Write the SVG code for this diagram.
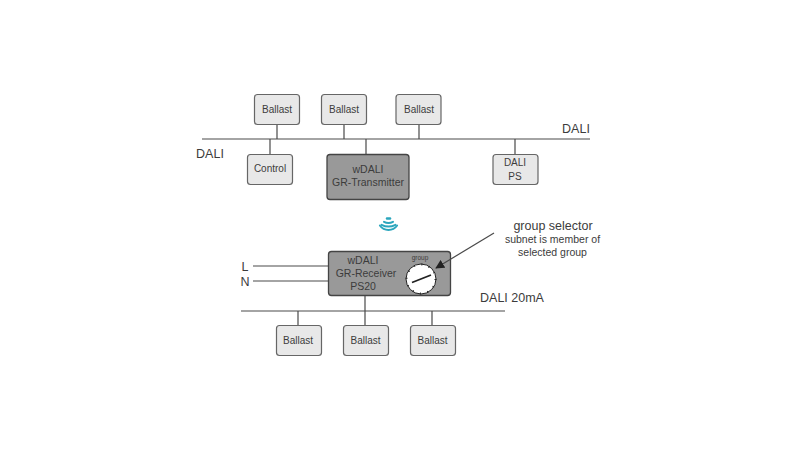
<svg xmlns="http://www.w3.org/2000/svg" width="800" height="450" viewBox="0 0 800 450">
<style>
text{font-family:"Liberation Sans",Arial,sans-serif;fill:#3c3c3c;text-anchor:middle}
.b{fill:#e8e8e8;stroke:#666;stroke-width:1.200}
.d{fill:#999;stroke:#444;stroke-width:1.300}
.c{stroke:#4a4a4a;stroke-width:1.200;fill:none}
.t{font-size:10px}
.m{font-size:10.500px}
.n{font-size:12.500px}
.w{fill:none;stroke:#2ba6bd;stroke-width:2;stroke-linecap:round}
</style>
<defs>
<marker id="ah" viewBox="0 0 10 10" refX="9" refY="5" markerWidth="9" markerHeight="9" markerUnits="userSpaceOnUse" orient="auto"><path d="M0 0L10 5L0 10Z" fill="#222"/></marker>
</defs>
<rect width="800" height="450" fill="#fff"/>
<g id="connectors-buses" class="c">
<path d="M202 139H590"/>
<path d="M277 124V139M344 124V139M419 124V139M270 139V155M366 139V154M515 139V155"/>
<path d="M241 311H505"/>
<path d="M253 266H328M253 281H328"/>
<path d="M365 296V311M298 311V325M365 311V325M432 311V325"/>
</g>
<g id="ballast-t1"><rect class="b" x="254.500" y="94.500" width="45" height="30" rx="3"/><text class="t" x="277" y="113">Ballast</text></g>
<g id="ballast-t2"><rect class="b" x="321.500" y="94.500" width="45" height="30" rx="3"/><text class="t" x="344" y="113">Ballast</text></g>
<g id="ballast-t3"><rect class="b" x="396" y="94.500" width="45" height="30" rx="3"/><text class="t" x="419" y="113">Ballast</text></g>
<g id="control"><rect class="b" x="247.500" y="154.500" width="45" height="30" rx="3"/><text class="t" x="270" y="172">Control</text></g>
<g id="transmitter"><rect class="d" x="327" y="154.500" width="82" height="45" rx="3"/><text class="m" x="368" y="173">wDALI</text><text class="m" x="368" y="186">GR-Transmitter</text></g>
<g id="dali-ps"><rect class="b" x="493" y="154.500" width="45" height="30" rx="3"/><text class="t" x="515" y="166">DALI</text><text class="t" x="515" y="180">PS</text></g>
<g id="wireless">
<path class="w" d="M387 218.500H390" style="stroke-width:2.500"/>
<path class="w" d="M384 221.800Q388.500 224.300 393 221.800"/>
<path class="w" d="M381.500 224.800Q388.500 228.300 395.500 224.800"/>
<path class="w" d="M379.800 225.500Q383 230 388.500 230Q394 230 397.200 225.500" style="stroke-width:1.800"/>
</g>
<g id="receiver">
<rect class="d" x="328.500" y="251.500" width="122" height="44" rx="3"/>
<text class="m" x="363" y="264">wDALI</text><text class="m" x="366" y="277">GR-Receiver</text><text class="m" x="363" y="290">PS20</text>
<text x="420" y="260" style="font-size:6.500px">group</text>
<circle cx="421" cy="279" r="15" fill="#fff" stroke="#222" stroke-width="1"/>
<circle cx="421" cy="279" r="14.500" fill="none" stroke="#222" stroke-width="2" stroke-dasharray="1 6.590"/>
<path d="M412 282.500L431 275" stroke="#222" stroke-width="1.800" fill="none"/>
</g>
<g id="connector-selector" class="c"><path d="M494 233L436 268" marker-end="url(#ah)"/></g>
<g id="ballast-b1"><rect class="b" x="276.500" y="325.500" width="45" height="30" rx="3"/><text class="t" x="298" y="344">Ballast</text></g>
<g id="ballast-b2"><rect class="b" x="343.500" y="325.500" width="45" height="30" rx="3"/><text class="t" x="365.500" y="344">Ballast</text></g>
<g id="ballast-b3"><rect class="b" x="410.500" y="325.500" width="45" height="30" rx="3"/><text class="t" x="432.500" y="344">Ballast</text></g>
<g id="labels">
<text class="n" x="210" y="158">DALI</text>
<text class="n" x="576" y="133">DALI</text>
<text class="n" x="245" y="271">L</text>
<text class="n" x="245" y="286">N</text>
<text class="n" x="512" y="302">DALI 20mA</text>
<text x="553" y="230" style="font-size:12.500px">group selector</text>
<text x="552.500" y="243" style="font-size:10.500px">subnet is member of</text>
<text x="552.500" y="256" style="font-size:10.500px">selected group</text>
</g>
</svg>
